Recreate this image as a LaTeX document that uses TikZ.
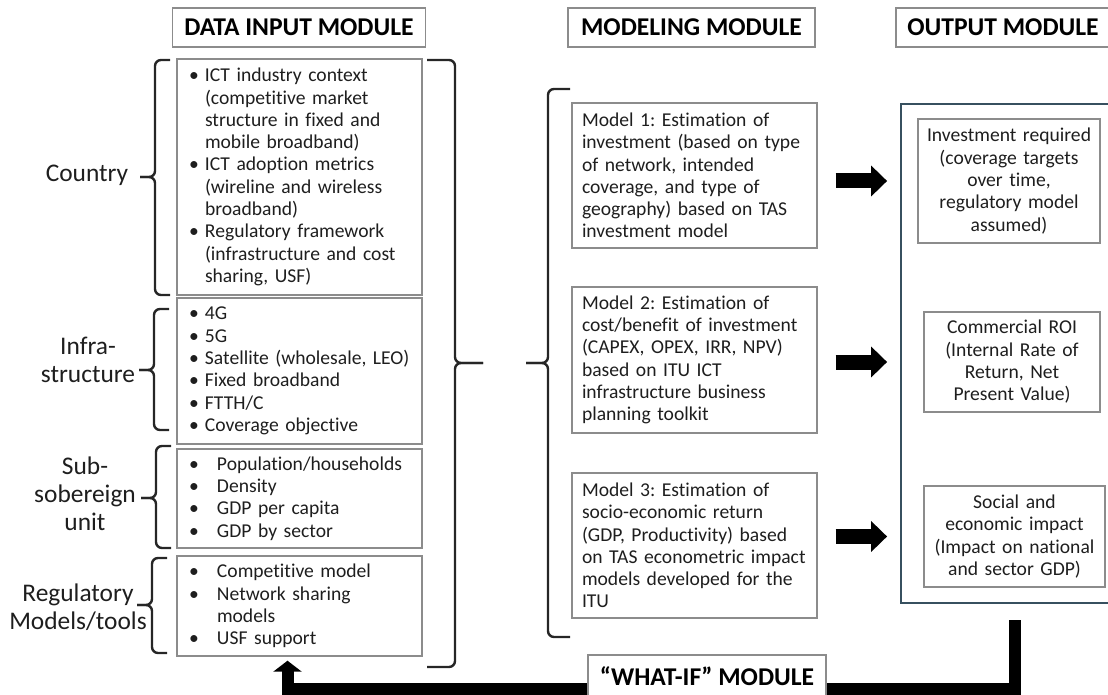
\documentclass[tikz,border=0pt]{standalone}
\usepackage{fontspec}
\setmainfont{Carlito}[Ligatures=NoCommon]
\usepackage{tikz}
\usetikzlibrary{calc,arrows.meta}
\frenchspacing
\hyphenpenalty=10000
\definecolor{boxGray}{RGB}{140,140,140}
\definecolor{textColor}{RGB}{30,30,30}
\definecolor{outerColor}{RGB}{55,80,95}
\tikzstyle{diagram} = [x=0.5pt, y=-0.5pt]
\tikzstyle{headStyle} = [draw=boxGray, line width=.7pt, fill=white, font=\fontsize{12.8}{14}\selectfont\bfseries, text=black, minimum height=19.5pt, inner sep=0pt]
\tikzstyle{listBox} = [draw=boxGray, line width=.7pt, font=\fontsize{9.8}{11.15}\selectfont, text=textColor, align=left, inner xsep=6pt, inner ysep=0pt, text width=110.5pt, minimum width=122.5pt]
\tikzstyle{modelBox} = [listBox, inner xsep=5pt, text width=112.5pt]
\tikzstyle{resultBox} = [listBox, align=center, inner xsep=3pt]
\tikzstyle{groupLabel} = [font=\fontsize{12.7}{14}\selectfont, text=textColor, align=center]
\tikzstyle{braceLine} = [line width=1.2pt, rounded corners=3pt, color=black!85]
\tikzstyle{fatArrow} = [line width=7.5pt, color=black, -{Triangle[length=8pt,width=15pt]}]
\tikzstyle{loopArrow} = [line width=6pt, color=black, -{Triangle[length=5.5pt,width=14pt]}]
\newcommand{\itm}[1][8pt]{\makebox[#1][l]{\textbullet}}
\newcommand{\cnt}[1][8pt]{\hspace*{#1}}
\newcommand{\leftBrace}[5]{\draw [braceLine] (#1 + #5, #2) -- (#1, #2) -- (#1, #4) -- (#1 - #5, #4); \draw [braceLine] (#1 - #5, #4) -- (#1, #4) -- (#1, #3) -- (#1 + #5, #3);}
\newcommand{\rightBrace}[5]{\draw [braceLine] (#1 - #5, #2) -- (#1, #2) -- (#1, #4) -- (#1 + #5, #4); \draw [braceLine] (#1 + #5, #4) -- (#1, #4) -- (#1, #3) -- (#1 - #5, #3);}

\begin{document}
\begin{tikzpicture}[diagram]
\useasboundingbox (0,0) rectangle (1108,695);
\node [headStyle, minimum width=126.5pt] (dataHead) at (299,27.5) {DATA INPUT MODULE};
\node [headStyle, minimum width=123.5pt] (modelHead) at (691.5,27.5) {MODELING MODULE};
\node [headStyle, minimum width=107pt] (outHead) at (1003,27.5) {OUTPUT MODULE};
\node [listBox, minimum height=118pt] (country) at (299.5,177) {\itm ICT industry context\\\cnt(competitive market\\\cnt structure in fixed and\\\cnt mobile broadband)\\\itm ICT adoption metrics\\\cnt(wireline and wireless\\\cnt broadband)\\\itm Regulatory framework\\\cnt(infrastructure and cost\\\cnt sharing, USF)};
\node [listBox, minimum height=73pt] (infra) at (299.5,371) {\itm 4G\\\itm 5G\\\itm Satellite (wholesale, LEO)\\\itm Fixed broadband\\\itm FTTH/C\\\itm Coverage objective};
\node [listBox, minimum height=49.5pt] (sub) at (299.5,498.5) {\itm[14pt]Population/households\\\itm[14pt]Density\\\itm[14pt]GDP per capita\\\itm[14pt]GDP by sector};
\node [listBox, minimum height=50pt] (reg) at (299.5,606) {\itm[14pt]Competitive model\\\itm[14pt]Network sharing\\\cnt[14pt]models\\\itm[14pt]USF support};
\node [groupLabel] (countryLabel) at (87,175) {Country};
\node [groupLabel] (infraLabel) at (88,359.5) {Infra-\\structure};
\node [groupLabel] (subLabel) at (85,493.5) {Sub-\\sobereign\\unit};
\node [groupLabel] (regLabel) at (78,607.5) {Regulatory\\Models/tools};
\leftBrace{155}{60}{295}{177}{15}
\leftBrace{154}{309}{430}{370}{15}
\leftBrace{156}{446}{548}{498}{15}
\leftBrace{152}{558}{653}{605}{15}
\rightBrace{455}{60}{667}{363}{28}
\leftBrace{548}{89}{637}{363}{22}
\node [modelBox, minimum height=72.5pt] (m1) at (694.5,175.5) {Model 1: Estimation of\\investment (based on type\\of network, intended\\coverage, and type of\\geography) based on TAS\\investment model};
\node [modelBox, minimum height=73pt] (m2) at (694.5,360) {Model 2: Estimation of\\cost/benefit of investment\\(CAPEX, OPEX, IRR, NPV)\\based on ITU ICT\\infrastructure business\\planning toolkit};
\node [modelBox, minimum height=72.5pt] (m3) at (694.5,545.5) {Model 3: Estimation of\\socio-economic return\\(GDP, Productivity) based\\on TAS econometric impact\\models developed for the\\ITU};
\node [draw=outerColor, line width=.9pt, minimum width=107pt, minimum height=249.5pt, inner sep=0pt] (outer) at (1008,353.5) {};
\node [resultBox, minimum width=91pt, text width=85pt, minimum height=62pt] (o1) at (1009,181) {Investment required\\(coverage targets\\over time,\\regulatory model\\assumed)};
\node [resultBox, minimum width=88pt, text width=82pt, minimum height=50pt] (o2) at (1012,362) {Commercial ROI\\(Internal Rate of\\Return, Net\\Present Value)};
\node [resultBox, minimum width=90.5pt, text width=84.5pt, minimum height=50.5pt] (o3) at (1014.5,536.5) {Social and\\economic impact\\(Impact on national\\and sector GDP)};
\foreach \i in {1,2,3} {\draw [fatArrow] ($(m\i.east |- o\i.west) + (18,0)$) -- ($(outer.west |- o\i.west) + (-13,0)$);}
\coordinate (fbStart) at (1014.5,620);
\coordinate (fbCorner) at (287.5,688.5);
\draw [loopArrow] (fbStart) |- (fbCorner) -- ([yshift=-2pt]reg.south -| fbCorner);
\node [headStyle, minimum width=119pt, minimum height=21pt] (whatIf) at (707,676) {“WHAT-IF” MODULE};
\end{tikzpicture}
\end{document}
